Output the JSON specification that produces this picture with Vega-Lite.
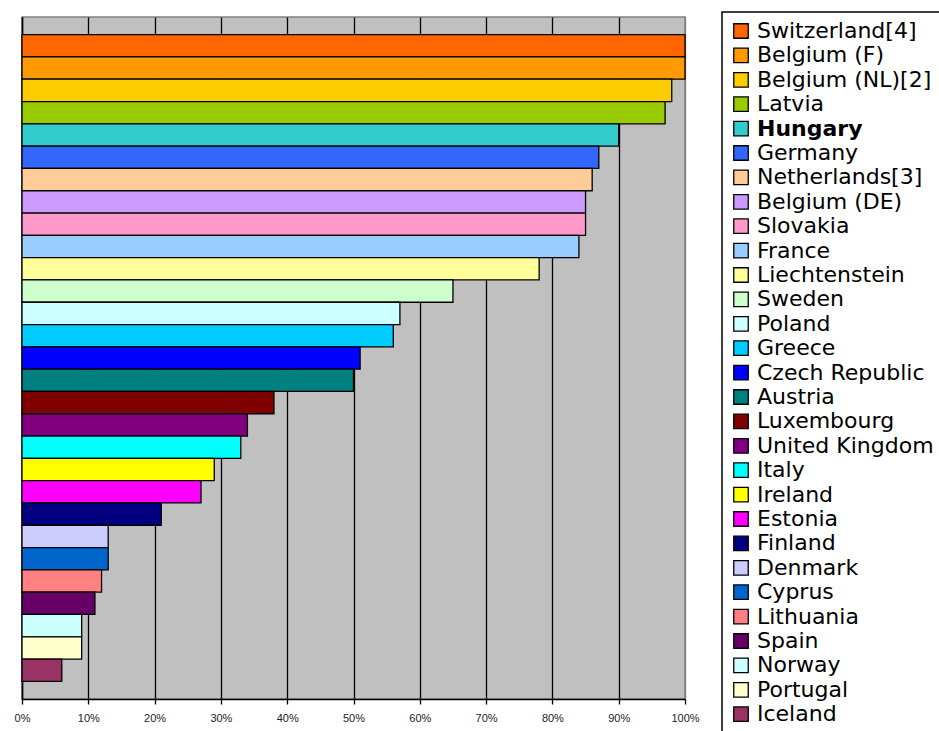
{
  "$schema": "https://vega.github.io/schema/vega-lite/v6.json",
  "width": 663,
  "height": 682,
  "autosize": {"type": "none"},
  "padding": {"left": 22, "top": 17, "right": 254, "bottom": 32},
  "background": "white",
  "config": {
    "view": {"stroke": "#808080", "strokeWidth": 1.5, "fill": "#C0C0C0"},
    "font": "Liberation Sans"
  },
  "data": {
    "values": [
      {"country": "Switzerland[4]", "rate": 100},
      {"country": "Belgium (F)", "rate": 100},
      {"country": "Belgium (NL)[2]", "rate": 98},
      {"country": "Latvia", "rate": 97},
      {"country": "Hungary", "rate": 90},
      {"country": "Germany", "rate": 87},
      {"country": "Netherlands[3]", "rate": 86},
      {"country": "Belgium (DE)", "rate": 85},
      {"country": "Slovakia", "rate": 85},
      {"country": "France", "rate": 84},
      {"country": "Liechtenstein", "rate": 78},
      {"country": "Sweden", "rate": 65},
      {"country": "Poland", "rate": 57},
      {"country": "Greece", "rate": 56},
      {"country": "Czech Republic", "rate": 51},
      {"country": "Austria", "rate": 50},
      {"country": "Luxembourg", "rate": 38},
      {"country": "United Kingdom", "rate": 34},
      {"country": "Italy", "rate": 33},
      {"country": "Ireland", "rate": 29},
      {"country": "Estonia", "rate": 27},
      {"country": "Finland", "rate": 21},
      {"country": "Denmark", "rate": 13},
      {"country": "Cyprus", "rate": 13},
      {"country": "Lithuania", "rate": 12},
      {"country": "Spain", "rate": 11},
      {"country": "Norway", "rate": 9},
      {"country": "Portugal", "rate": 9},
      {"country": "Iceland", "rate": 6}
    ]
  },
  "mark": {"type": "bar", "stroke": "black", "strokeWidth": 1.3},
  "encoding": {
    "y": {
      "field": "country",
      "type": "nominal",
      "sort": null,
      "scale": {"paddingInner": 0, "paddingOuter": 0.79},
      "axis": {
        "title": null,
        "labels": false,
        "ticks": false,
        "domainColor": "black",
        "domainWidth": 1.5,
        "grid": false
      }
    },
    "x": {
      "field": "rate",
      "type": "quantitative",
      "scale": {"domain": [0, 100], "nice": false},
      "axis": {
        "title": null,
        "values": [0, 10, 20, 30, 40, 50, 60, 70, 80, 90, 100],
        "labelExpr": "datum.value + '%'",
        "labelFontSize": 11,
        "labelColor": "#222222",
        "labelPadding": 8,
        "labelFlush": false,
        "tickSize": 5,
        "tickColor": "black",
        "tickWidth": 1.3,
        "domainColor": "black",
        "domainWidth": 1.5,
        "grid": true,
        "gridColor": {"condition": {"test": "datum.value === 100", "value": "#808080"}, "value": "black"},
        "gridWidth": 1.3,
        "gridOpacity": 1
      }
    },
    "color": {
      "field": "country",
      "type": "nominal",
      "sort": null,
      "scale": {
        "domain": ["Switzerland[4]", "Belgium (F)", "Belgium (NL)[2]", "Latvia", "Hungary", "Germany", "Netherlands[3]", "Belgium (DE)", "Slovakia", "France", "Liechtenstein", "Sweden", "Poland", "Greece", "Czech Republic", "Austria", "Luxembourg", "United Kingdom", "Italy", "Ireland", "Estonia", "Finland", "Denmark", "Cyprus", "Lithuania", "Spain", "Norway", "Portugal", "Iceland"],
        "range": ["#FF6600", "#FF9900", "#FFCC00", "#99CC00", "#33CCCC", "#3366FF", "#FFCC99", "#CC99FF", "#FF99CC", "#99CCFF", "#FFFF99", "#CCFFCC", "#CCFFFF", "#00CCFF", "#0000FF", "#008080", "#800000", "#800080", "#00FFFF", "#FFFF00", "#FF00FF", "#000080", "#CCCCFF", "#0066CC", "#FF8080", "#660066", "#CCFFFF", "#FFFFCC", "#993366"]
      },
      "legend": {
        "title": null,
        "orient": "none",
        "legendX": 700,
        "legendY": -5,
        "fillColor": "white",
        "strokeColor": "black",
        "padding": 8,
        "symbolType": "square",
        "symbolSize": 210,
        "symbolStrokeColor": "black",
        "symbolStrokeWidth": 1.3,
        "symbolOpacity": 1,
        "symbolLimit": 50,
        "labelFont": "DejaVu Sans",
        "labelFontSize": 22,
        "labelColor": "black",
        "labelLimit": 400,
        "labelOffset": 5,
        "rowPadding": 2.4,
        "offset": 0,
        "encode": {
          "legend": {
            "update": {"strokeWidth": {"value": 1.5}}
          },
          "labels": {
            "update": {
              "fontWeight": {"signal": "datum.value === 'Hungary' ? 'bold' : 'normal'"}
            }
          }
        }
      }
    }
  }
}
